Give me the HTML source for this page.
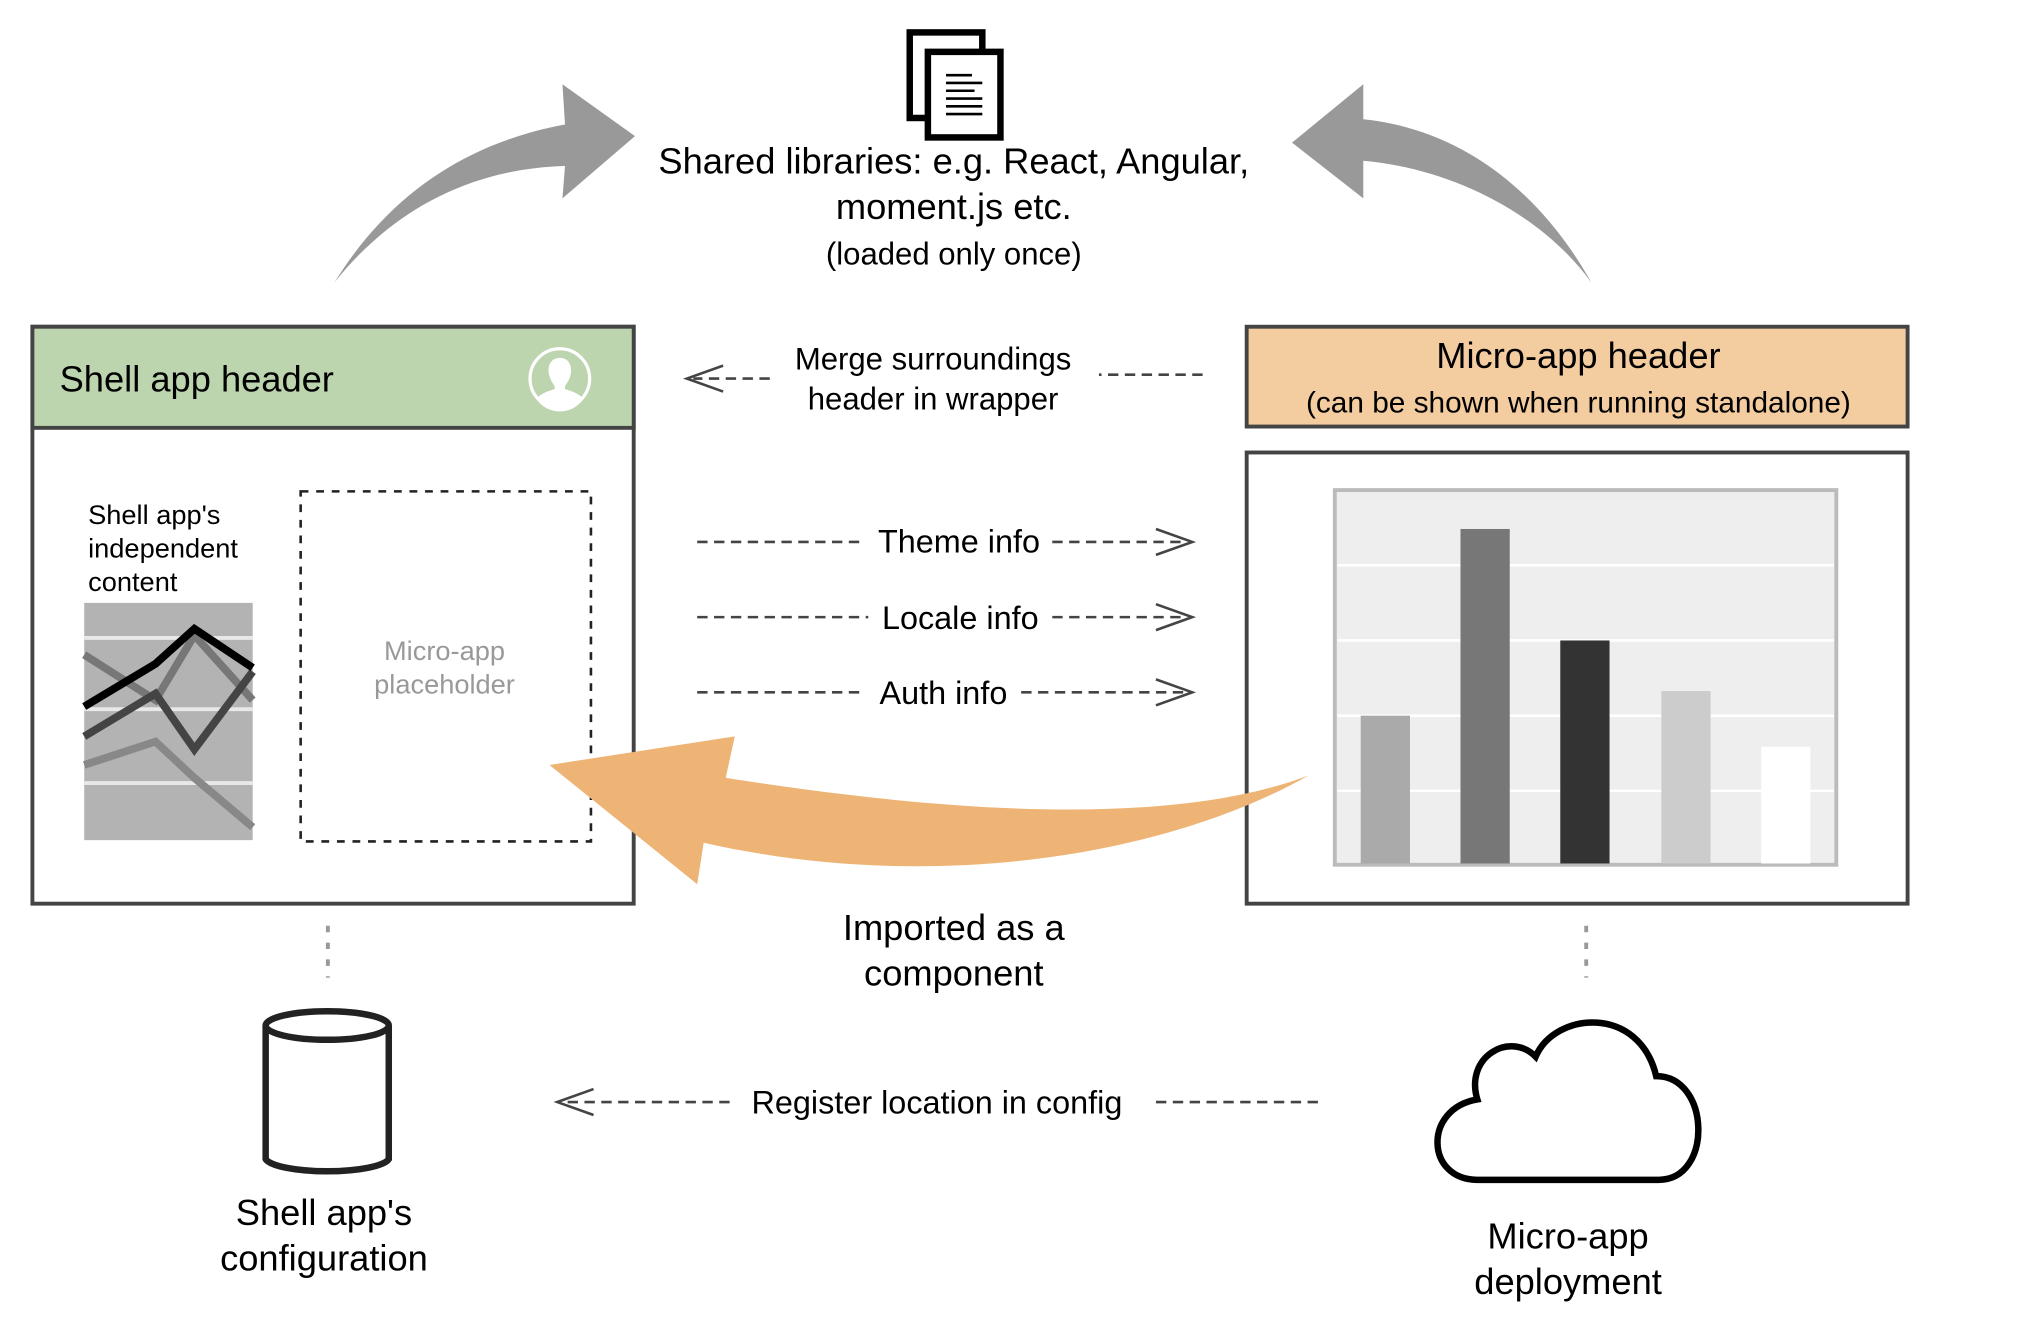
<!DOCTYPE html>
<html><head><meta charset="utf-8"><style>
html,body{margin:0;padding:0;background:#fff;}
svg{display:block;}
text{font-family:"Liberation Sans",Arial,sans-serif;fill:#000;}
</style></head><body>
<svg width="2032" height="1338" viewBox="0 0 1568 1032" preserveAspectRatio="none" xmlns="http://www.w3.org/2000/svg">
<!-- top doc icon -->
<g fill="#fff" stroke="#000" stroke-width="5">
<rect x="702" y="25" width="56" height="66" />
<rect x="716" y="40" width="56" height="66" />
</g>
<g stroke="#000" stroke-width="2">
<line x1="730" y1="58" x2="750" y2="58"/><line x1="730" y1="64" x2="758" y2="64"/>
<line x1="730" y1="70" x2="752" y2="70"/><line x1="730" y1="76" x2="758" y2="76"/>
<line x1="730" y1="82" x2="758" y2="82"/><line x1="730" y1="88" x2="758" y2="88"/>
</g>
<text x="736" y="134" font-size="28" text-anchor="middle">Shared libraries: e.g. React, Angular,</text>
<text x="736" y="169" font-size="28" text-anchor="middle">moment.js etc.</text>
<text x="736" y="204" font-size="24" text-anchor="middle">(loaded only once)</text>
<!-- gray arrows -->
<path d="M258,218 C300,150 360,110 436,96 L434,65 L490,105 L434,153 L436,128 C360,130 300,165 258,218 Z" fill="#999"/>
<path d="M1228,218 C1190,165 1120,130 1052,124 L1052,153 L997,110 L1052,65 L1052,92 C1130,100 1190,150 1228,218 Z" fill="#999"/>
<!-- shell box -->
<rect x="25" y="252" width="464" height="445" fill="#fff" stroke="#444" stroke-width="3"/>
<rect x="25" y="252" width="464" height="78" fill="#bcd5ae" stroke="#444" stroke-width="3"/>
<text x="46" y="302" font-size="28">Shell app header</text>
<circle cx="432" cy="292" r="23" fill="none" stroke="#fff" stroke-width="2.5"/>
<path d="M432,276 c-8,0 -10,8 -8,14 c1,4 3,6 4,8 l0,2 c-6,2 -12,4 -14,8 a22,22 0 0 0 36,0 c-2,-4 -8,-6 -14,-8 l0,-2 c1,-2 3,-4 4,-8 c2,-6 0,-14 -8,-14z" fill="#fff"/>
<text font-size="21"><tspan x="68" y="404">Shell app's</tspan><tspan x="68" y="430">independent</tspan><tspan x="68" y="456">content</tspan></text>
<rect x="65" y="465" width="130" height="183" fill="#b3b3b3"/>
<g stroke="#e8e8e8" stroke-width="3"><line x1="65" y1="492" x2="195" y2="492"/><line x1="65" y1="547" x2="195" y2="547"/><line x1="65" y1="604" x2="195" y2="604"/></g>
<g fill="none" stroke-width="6">
<polyline points="65,590 120,572 150,600 195,638" stroke="#888"/>
<polyline points="65,505 120,540 150,490 195,540" stroke="#777"/>
<polyline points="65,568 120,535 150,578 195,518" stroke="#444"/>
<polyline points="65,545 120,512 150,485 195,515" stroke="#000"/>
</g>
<rect x="232" y="379" width="224" height="270" fill="none" stroke="#222" stroke-width="2" stroke-dasharray="6,6"/>
<text font-size="21" text-anchor="middle" style="fill:#999"><tspan x="343" y="509">Micro-app</tspan><tspan x="343" y="535">placeholder</tspan></text>
<!-- micro app -->
<rect x="962" y="252" width="510" height="77" fill="#f3cca0" stroke="#444" stroke-width="3"/>
<text x="1218" y="284" font-size="28" text-anchor="middle">Micro-app header</text>
<text x="1218" y="318" font-size="23" text-anchor="middle">(can be shown when running standalone)</text>
<rect x="962" y="349" width="510" height="348" fill="#fff" stroke="#444" stroke-width="3"/>
<rect x="1030" y="378" width="387" height="289" fill="#eee" stroke="#bbb" stroke-width="3"/>
<g stroke="#fff" stroke-width="2"><line x1="1032" y1="436" x2="1415" y2="436"/><line x1="1032" y1="494" x2="1415" y2="494"/><line x1="1032" y1="552" x2="1415" y2="552"/><line x1="1032" y1="610" x2="1415" y2="610"/></g>
<rect x="1050" y="552" width="38" height="114" fill="#aaa"/>
<rect x="1127" y="408" width="38" height="258" fill="#777"/>
<rect x="1204" y="494" width="38" height="172" fill="#333"/>
<rect x="1282" y="533" width="38" height="133" fill="#ccc"/>
<rect x="1359" y="576" width="38" height="90" fill="#fff"/>
<!-- dashed connectors -->
<g stroke="#444" stroke-width="2" stroke-dasharray="8,5" fill="none">
<line x1="928" y1="289" x2="848" y2="289"/><line x1="594" y1="292" x2="535" y2="292"/>
<line x1="538" y1="418" x2="667" y2="418"/><line x1="812" y1="418" x2="916" y2="418"/>
<line x1="538" y1="476" x2="670" y2="476"/><line x1="812" y1="476" x2="916" y2="476"/>
<line x1="538" y1="534" x2="668" y2="534"/><line x1="788" y1="534" x2="916" y2="534"/>
<line x1="1017" y1="850" x2="887" y2="850"/><line x1="563" y1="850" x2="434" y2="850"/>
</g>
<g stroke="#444" stroke-width="2" fill="none">
<polyline points="558,282 530,292 558,302"/>
<polyline points="892,408 920,418 892,428"/>
<polyline points="892,466 920,476 892,486"/>
<polyline points="892,524 920,534 892,544"/>
<polyline points="458,840 430,850 458,860"/>
</g>
<text font-size="24" text-anchor="middle"><tspan x="720" y="285">Merge surroundings</tspan><tspan x="720" y="316">header in wrapper</tspan></text>
<text x="740" y="426" font-size="25" text-anchor="middle">Theme info</text>
<text x="741" y="485" font-size="25" text-anchor="middle">Locale info</text>
<text x="728" y="543" font-size="25" text-anchor="middle">Auth info</text>
<text x="723" y="859" font-size="25" text-anchor="middle">Register location in config</text>
<!-- orange arrow -->
<path d="M1010,598 C900,640 720,625 560,600 L567,568 L424,590 L538,682 L543,650 C720,690 900,660 1010,598 Z" fill="#eeb475"/>
<text font-size="28" text-anchor="middle"><tspan x="736" y="725">Imported as a</tspan><tspan x="736" y="760">component</tspan></text>
<!-- dotted verticals -->
<g stroke="#999" stroke-width="3" stroke-dasharray="5,8"><line x1="253" y1="714" x2="253" y2="754"/><line x1="1224" y1="714" x2="1224" y2="754"/></g>
<!-- cylinder -->
<path d="M205,791 L205,894 A48,11 0 0 0 300,894 L300,791" fill="#fff" stroke="#222" stroke-width="5"/>
<ellipse cx="252.5" cy="791" rx="47.5" ry="11" fill="#fff" stroke="#222" stroke-width="5"/>
<text font-size="28" text-anchor="middle"><tspan x="250" y="945">Shell app's</tspan><tspan x="250" y="980">configuration</tspan></text>
<!-- cloud -->
<path d="M1140,910 C1100,910 1098,855 1140,848 C1130,815 1165,795 1185,815 C1200,780 1265,775 1278,830 C1320,830 1322,910 1280,910 Z" fill="#fff" stroke="#000" stroke-width="5"/>
<text font-size="28" text-anchor="middle"><tspan x="1210" y="963">Micro-app</tspan><tspan x="1210" y="998">deployment</tspan></text>
</svg>
</body></html>
